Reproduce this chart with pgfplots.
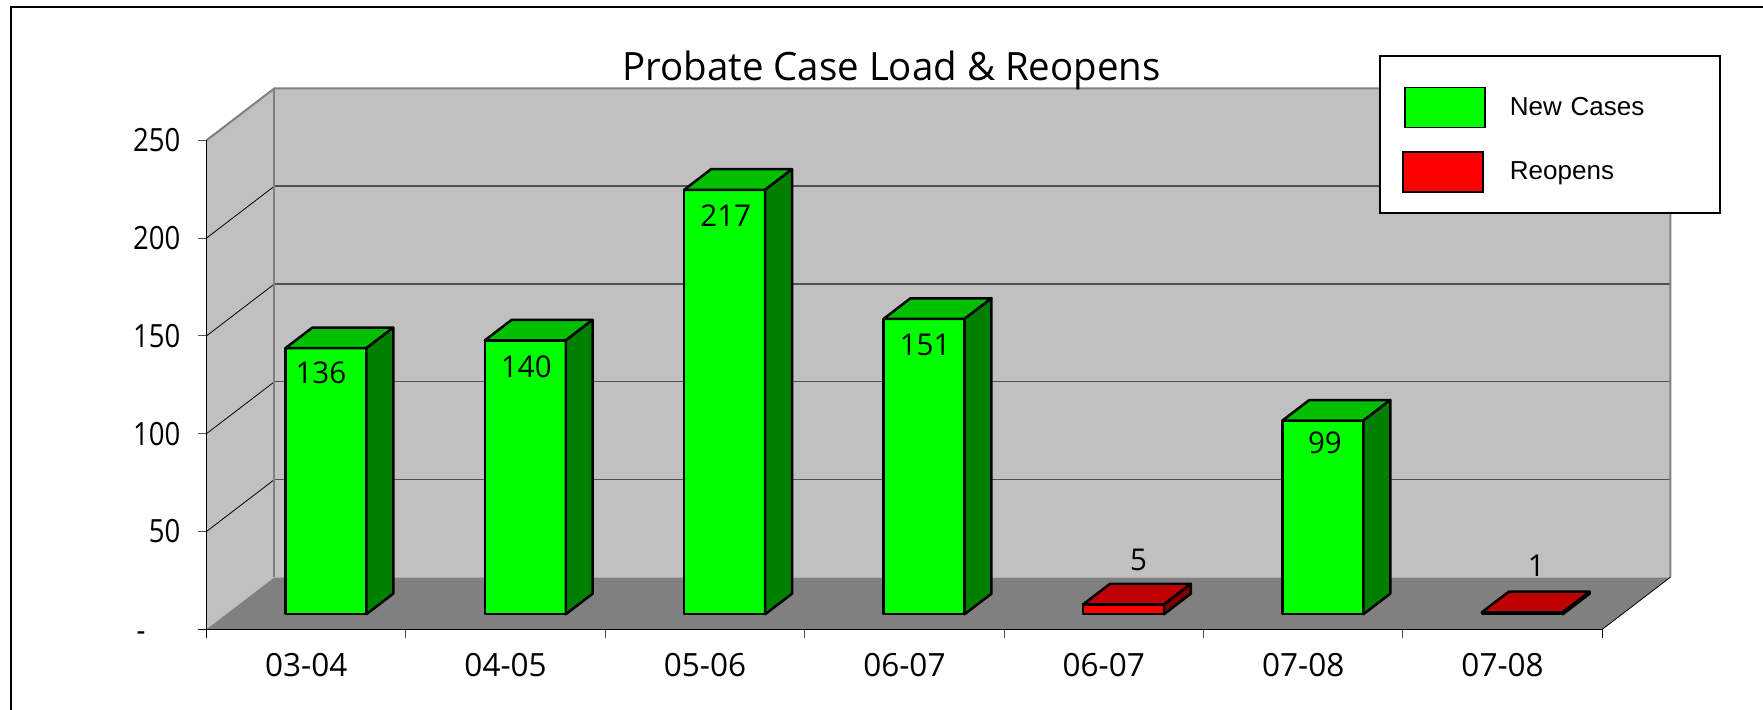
\documentclass[border=0pt]{standalone}
\usepackage{fontspec}
\setmainfont{Open Sans}[FakeStretch=0.86]
\newfontfamily\titlefont{Open Sans}[FakeStretch=0.985]
\newfontfamily\legendfont{Liberation Sans}
\usepackage{pgfplots}
\pgfplotsset{compat=1.18}

\definecolor{wall}{HTML}{C0C0C0}
\definecolor{floorc}{HTML}{808080}
\definecolor{gridc}{HTML}{505050}
\definecolor{gfront}{HTML}{00FF00}
\definecolor{gtop}{HTML}{00C000}
\definecolor{gside}{HTML}{008000}
\definecolor{rfront}{HTML}{FF0000}
\definecolor{rtop}{HTML}{C00000}
\definecolor{rside}{HTML}{800000}

% one bar: x left, x right, value, front colour, top colour, side colour
\newcommand{\threedbar}[6]{
  \addplot3[forget plot, fill=#4, draw=black, line width=1.25pt, line join=round]
    coordinates {(#1,0.29,0) (#2,0.29,0) (#2,0.29,#3) (#1,0.29,#3)} --cycle;
  \addplot3[forget plot, fill=#5, draw=black, line width=1.25pt, line join=round]
    coordinates {(#1,0.29,#3) (#2,0.29,#3) (#2,0.685,#3) (#1,0.685,#3)} --cycle;
  \addplot3[forget plot, fill=#6, draw=black, line width=1.25pt, line join=round]
    coordinates {(#2,0.29,0) (#2,0.685,0) (#2,0.685,#3) (#2,0.29,#3)} --cycle;
}
% one horizontal grid line across side wall and back wall
\newcommand{\gridat}[1]{
  \addplot3[forget plot, draw=black, line width=0.4pt] coordinates {(0,0,#1) (0,1,#1)};
  \addplot3[forget plot, draw=gridc, line width=0.7pt] coordinates {(0,1,#1) (7,1,#1)};
}

\begin{document}
\begin{tikzpicture}[x=0.5pt,y=0.5pt]
  \useasboundingbox (0,0) rectangle (1763,710);
  \draw[black, line width=0.8pt] (10.7,0) -- (10.7,703) -- (1763,703);
  \begin{axis}[
      at={(103.25pt,40.35pt)}, anchor=origin,
      x={(99.7pt,0pt)}, y={(34pt,26pt)}, z={(0pt,0.978pt)},
      xmin=0, xmax=7, ymin=0, ymax=1, zmin=0, zmax=250,
      clip=false,
      axis on top,
      axis lines*=left,
      y axis line style={draw=none},
      x axis line style={line width=0.6pt},
      z axis line style={line width=0.6pt},
      ytick=\empty,
      xtick={0,...,7},
      xticklabels={03-04,04-05,05-06,06-07,06-07,07-08,07-08,{}},
      ztick={0,50,100,150,200,250},
      zticklabels={\raisebox{-12.5pt}{-}\rule{17.5pt}{0pt},50,100,150,200,250},
      major tick length=0pt,
      x tick label style={font=\titlefont\fontsize{16}{16}\selectfont, xshift=49.85pt, anchor=north, yshift=-8.5pt},
      z tick label style={font=\fontsize{16}{16}\selectfont, anchor=east, xshift=-9.5pt},
      legend style={
        at={(axis cs:5.880,0,293.6)}, anchor=north west,
        font=\legendfont\fontsize{13}{13}\selectfont,
        draw=black, line width=1pt,
        inner xsep=11pt, inner ysep=10.3pt, row sep=6.1pt,
        nodes={text width=92pt},
      },
      legend cell align=left,
    ]
    % walls and floor
    \addplot3[forget plot, fill=wall, draw=none] coordinates {(0,1,0) (7,1,0) (7,1,250) (0,1,250)} --cycle;
    \addplot3[forget plot, fill=wall, draw=none] coordinates {(0,0,0) (0,1,0) (0,1,250) (0,0,250)} --cycle;
    \addplot3[forget plot, fill=floorc, draw=none] coordinates {(0,0,0) (7,0,0) (7,1,0) (0,1,0)} --cycle;
    \gridat{50}
    \gridat{100}
    \gridat{150}
    \gridat{200}
    \addplot3[forget plot, draw=floorc, line width=1pt]
      coordinates {(0,0,250) (0,1,250) (7,1,250) (7,1,0)};
    \addplot3[forget plot, draw=floorc, line width=1pt] coordinates {(0,1,250) (0,1,0)};
    \addplot3[forget plot, draw=black, line width=0.4pt] coordinates {(7,0,0) (7,1,0)};
    % tick marks
    \addplot3[forget plot, draw=gridc, line width=0.5pt] coordinates {(-0.0426,0,250) (0,0,250)};
    \addplot3[forget plot, draw=gridc, line width=0.5pt] coordinates {(-0.0426,0,200) (0,0,200)};
    \addplot3[forget plot, draw=gridc, line width=0.5pt] coordinates {(-0.0426,0,150) (0,0,150)};
    \addplot3[forget plot, draw=gridc, line width=0.5pt] coordinates {(-0.0426,0,100) (0,0,100)};
    \addplot3[forget plot, draw=gridc, line width=0.5pt] coordinates {(-0.0426,0,50) (0,0,50)};
    \addplot3[forget plot, draw=black, line width=0.5pt] coordinates {(-0.0426,0,0) (0,0,0)};
    \addplot3[forget plot, draw=black, line width=0.5pt] coordinates {(0,0,-4.6) (0,0,0)};
    \addplot3[forget plot, draw=gridc, line width=0.5pt] coordinates {(1,0,-4.6) (1,0,0)};
    \addplot3[forget plot, draw=gridc, line width=0.5pt] coordinates {(2,0,-4.6) (2,0,0)};
    \addplot3[forget plot, draw=gridc, line width=0.5pt] coordinates {(3,0,-4.6) (3,0,0)};
    \addplot3[forget plot, draw=gridc, line width=0.5pt] coordinates {(4,0,-4.6) (4,0,0)};
    \addplot3[forget plot, draw=gridc, line width=0.5pt] coordinates {(5,0,-4.6) (5,0,0)};
    \addplot3[forget plot, draw=gridc, line width=0.5pt] coordinates {(6,0,-4.6) (6,0,0)};
    \addplot3[forget plot, draw=black, line width=0.5pt] coordinates {(7,0,-4.6) (7,0,0)};
    % bars
    \threedbar{0.297}{0.703}{136}{gfront}{gtop}{gside}
    \threedbar{1.297}{1.703}{140}{gfront}{gtop}{gside}
    \threedbar{2.297}{2.703}{217}{gfront}{gtop}{gside}
    \threedbar{3.297}{3.703}{151}{gfront}{gtop}{gside}
    \threedbar{4.297}{4.703}{5}{rfront}{rtop}{rside}
    \threedbar{5.297}{5.703}{99}{gfront}{gtop}{gside}
    \threedbar{6.297}{6.703}{1}{rfront}{rtop}{rside}
    % data labels
    \begin{scope}[every node/.style={font=\titlefont\fontsize{15}{15}\selectfont}]
      \node[xshift=-2.5pt, yshift=-12.5pt] at (axis cs:0.5,0.29,136) {136};
      \node[xshift=0.5pt, yshift=-13pt] at (axis cs:1.5,0.29,140) {140};
      \node[xshift=0.5pt, yshift=-13pt] at (axis cs:2.5,0.29,217) {217};
      \node[xshift=0.5pt, yshift=-13pt] at (axis cs:3.5,0.29,151) {151};
      \node[xshift=7.5pt, yshift=22pt] at (axis cs:4.5,0.29,5) {5};
      \node[xshift=1pt, yshift=-11pt] at (axis cs:5.5,0.29,99) {99};
      \node[xshift=7pt, yshift=23pt] at (axis cs:6.5,0.29,1) {1};
    \end{scope}
    \addlegendimage{legend image code/.code={\path (-1pt,15pt) (50pt,-10pt); \draw[fill=gfront, draw=black, line width=0.8pt] (0pt,-10pt) rectangle (40pt,10pt);}}
    \addlegendentry{New Cases}
    \addlegendimage{legend image code/.code={\path (-1pt,15pt) (50pt,-10pt); \draw[fill=rfront, draw=black, line width=0.8pt] (-1pt,-10pt) rectangle (39pt,10pt);}}
    \addlegendentry{Reopens}
  \end{axis}
  \node[anchor=base, font=\titlefont\fontsize{19.5}{19.5}\selectfont] at (891.5,629.3) {Probate Case Load \& Reopens};
\end{tikzpicture}
\end{document}
